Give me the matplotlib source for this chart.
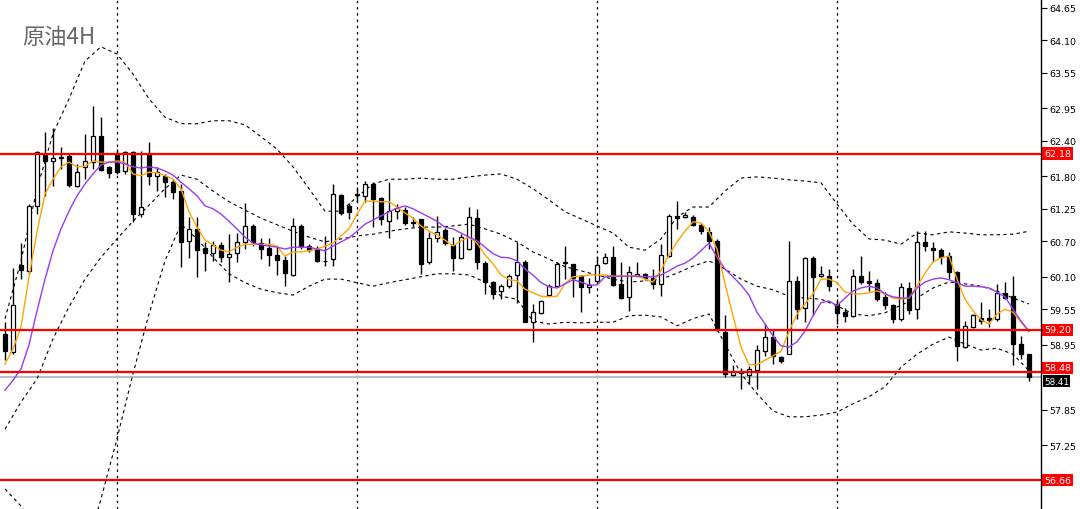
import matplotlib
matplotlib.use('Agg')
import matplotlib.pyplot as plt
import matplotlib.transforms as mtransforms
import numpy as np

# 4H candles of crude oil
opens = [59.13, 58.83, 60.30, 60.20, 61.30, 62.16, 62.06, 62.11, 62.14, 61.64,
         61.96, 62.04, 62.48, 61.96, 62.16, 61.89, 62.21, 61.16, 62.16, 61.81,
         61.81, 61.70, 61.55, 60.71, 60.91, 60.59, 60.50, 60.64, 60.43, 60.50,
         60.69, 60.96, 60.67, 60.59, 60.47, 60.38, 60.13, 60.96, 60.62, 60.57,
         60.37, 60.40, 61.48, 61.30, 61.48, 61.47, 61.67, 61.43, 61.04, 61.21,
         61.23, 61.03, 61.08, 60.35, 60.76, 60.89, 60.64, 60.42, 60.57, 61.09,
         60.33, 60.01, 59.86, 59.94, 60.13, 60.35, 59.33, 59.49, 59.79, 59.94,
         60.33, 60.32, 60.11, 59.93, 60.03, 60.33, 60.43, 59.98, 59.76, 60.11,
         60.15, 60.08, 59.98, 60.45, 61.13, 61.11, 61.11, 60.98, 60.86, 60.71,
         59.17, 58.44, 58.51, 58.44, 58.52, 58.84, 59.08, 58.74, 58.79, 60.03,
         59.57, 60.42, 60.11, 60.11, 59.64, 59.50, 59.44, 60.11, 60.03, 60.00,
         59.76, 59.62, 59.39, 59.91, 59.55, 60.69, 60.59, 60.55, 60.45, 60.18,
         58.91, 59.25, 59.40, 59.40, 59.39, 59.83, 59.77, 58.96, 58.79]
highs = [59.33, 60.25, 60.67, 61.33, 62.23, 62.55, 62.62, 62.30, 62.18, 62.01,
         62.52, 62.99, 62.80, 61.97, 62.26, 62.23, 62.23, 62.23, 62.38, 61.96,
         61.84, 61.75, 61.67, 61.11, 61.11, 60.69, 60.71, 60.69, 60.82, 60.84,
         61.35, 60.99, 60.76, 60.76, 60.62, 60.45, 61.09, 60.99, 60.65, 60.62,
         60.79, 61.67, 61.50, 61.35, 61.62, 61.72, 61.70, 61.45, 61.70, 61.33,
         61.28, 61.11, 61.08, 60.86, 61.13, 60.93, 60.77, 60.82, 61.28, 61.25,
         60.37, 60.03, 59.98, 60.15, 60.69, 60.38, 59.64, 59.71, 59.98, 60.35,
         60.62, 60.32, 60.13, 60.08, 60.45, 60.50, 60.62, 60.35, 60.28, 60.35,
         60.16, 60.23, 60.65, 61.16, 61.38, 61.20, 61.15, 61.01, 60.94, 60.74,
         59.45, 58.61, 58.56, 58.59, 58.95, 59.30, 59.22, 58.76, 60.71, 60.11,
         60.43, 60.45, 60.28, 60.23, 59.72, 59.57, 60.23, 60.45, 60.20, 60.06,
         59.84, 59.64, 60.00, 60.01, 60.87, 60.87, 60.69, 60.59, 60.52, 60.20,
         59.35, 59.47, 59.67, 59.55, 59.98, 60.01, 60.11, 59.10, 58.79]
lows = [58.69, 58.79, 60.06, 60.15, 61.16, 61.47, 61.64, 61.92, 61.62, 61.62,
        61.75, 61.92, 61.89, 61.77, 61.84, 61.84, 61.03, 61.11, 61.65, 61.55,
        61.45, 61.42, 60.27, 60.42, 60.10, 60.20, 60.37, 60.35, 60.01, 60.35,
        60.57, 60.62, 60.40, 60.28, 60.13, 59.94, 60.11, 60.57, 60.52, 60.35,
        60.28, 60.28, 61.15, 61.08, 61.37, 61.37, 60.94, 60.98, 60.76, 61.08,
        60.98, 60.94, 60.15, 60.32, 60.69, 60.64, 60.20, 60.40, 60.55, 60.23,
        59.81, 59.72, 59.72, 59.91, 59.66, 59.33, 59.00, 59.47, 59.77, 59.93,
        60.06, 59.76, 59.50, 59.83, 60.01, 60.32, 59.94, 59.72, 59.52, 60.11,
        60.05, 59.89, 59.77, 60.43, 60.91, 61.09, 60.96, 60.82, 60.57, 59.18,
        58.40, 58.42, 58.20, 58.29, 58.20, 58.76, 58.62, 58.64, 58.79, 59.39,
        59.33, 59.45, 60.10, 59.86, 59.30, 59.33, 59.42, 59.98, 59.86, 59.69,
        59.55, 59.32, 59.35, 59.47, 59.39, 60.54, 60.35, 60.32, 60.06, 58.67,
        58.89, 59.23, 59.30, 59.25, 59.35, 59.72, 58.61, 58.71, 58.34]
closes = [58.84, 59.62, 60.21, 61.30, 62.21, 62.06, 62.11, 62.13, 61.65, 61.87,
          62.06, 62.48, 61.91, 61.86, 61.87, 62.21, 61.16, 61.28, 61.81, 61.87,
          61.70, 61.53, 60.69, 60.91, 60.55, 60.50, 60.64, 60.43, 60.49, 60.69,
          60.96, 60.69, 60.57, 60.47, 60.38, 60.16, 60.96, 60.62, 60.55, 60.37,
          60.36, 61.50, 61.18, 61.20, 61.50, 61.67, 61.42, 61.08, 61.21, 61.26,
          61.01, 61.01, 60.32, 60.76, 60.86, 60.67, 60.42, 60.77, 61.11, 60.35,
          60.01, 59.81, 59.94, 60.11, 60.35, 59.33, 59.50, 59.69, 59.94, 60.32,
          60.35, 60.08, 59.93, 59.96, 60.30, 60.43, 59.96, 59.74, 60.18, 60.15,
          60.08, 59.98, 60.47, 61.13, 61.09, 61.15, 60.98, 60.87, 60.71, 59.20,
          58.46, 58.51, 58.47, 58.54, 58.86, 59.08, 58.76, 58.67, 60.03, 59.55,
          60.42, 60.10, 60.15, 59.94, 59.49, 59.44, 60.11, 60.01, 60.00, 59.72,
          59.62, 59.39, 59.93, 59.54, 60.69, 60.62, 60.55, 60.43, 60.18, 58.93,
          59.27, 59.45, 59.35, 59.37, 59.83, 59.74, 58.96, 58.79, 58.41]

# fast (orange) and slow (purple) moving averages, one value per candle
ma_fast = [58.62, 58.88, 59.25, 60.10, 60.86, 61.50, 61.75, 61.96, 62.04, 61.96,
           61.97, 62.06, 62.04, 62.04, 62.06, 62.04, 61.84, 61.81, 61.87, 61.86,
           61.81, 61.75, 61.59, 61.20, 60.94, 60.72, 60.64, 60.55, 60.52, 60.60,
           60.65, 60.65, 60.65, 60.65, 60.62, 60.45, 60.52, 60.52, 60.54, 60.57,
           60.62, 60.67, 60.79, 60.91, 61.16, 61.38, 61.38, 61.37, 61.37, 61.28,
           61.18, 61.09, 60.96, 60.87, 60.81, 60.72, 60.62, 60.71, 60.77, 60.67,
           60.47, 60.32, 60.13, 60.05, 60.03, 59.89, 59.83, 59.77, 59.76, 59.77,
           59.98, 60.10, 60.11, 60.13, 60.13, 60.13, 60.11, 60.11, 60.11, 60.11,
           60.06, 60.01, 60.21, 60.47, 60.69, 60.87, 61.03, 61.01, 60.86, 60.57,
           59.98, 59.44, 58.91, 58.61, 58.61, 58.69, 58.76, 58.84, 59.17, 59.47,
           59.64, 59.81, 60.06, 60.06, 60.00, 59.84, 59.81, 59.81, 59.83, 59.86,
           59.81, 59.74, 59.72, 59.74, 59.94, 60.16, 60.35, 60.42, 60.45, 60.06,
           59.72, 59.52, 59.37, 59.30, 59.47, 59.55, 59.50, 59.33, 59.17]
ma_slow = [58.18, 58.35, 58.54, 58.95, 59.52, 60.06, 60.54, 60.91, 61.21, 61.47,
           61.67, 61.84, 61.99, 62.04, 62.04, 62.01, 61.96, 61.94, 61.96, 61.94,
           61.89, 61.82, 61.70, 61.59, 61.47, 61.30, 61.25, 61.16, 61.04, 60.91,
           60.77, 60.67, 60.64, 60.62, 60.60, 60.57, 60.60, 60.60, 60.60, 60.57,
           60.54, 60.62, 60.69, 60.76, 60.87, 60.99, 61.06, 61.13, 61.20, 61.26,
           61.30, 61.25, 61.18, 61.11, 61.04, 60.94, 60.91, 60.84, 60.77, 60.71,
           60.60, 60.49, 60.43, 60.42, 60.37, 60.23, 60.13, 60.00, 59.93, 59.91,
           59.98, 60.05, 60.01, 59.96, 59.96, 60.10, 60.11, 60.11, 60.11, 60.11,
           60.10, 60.10, 60.13, 60.20, 60.28, 60.33, 60.42, 60.54, 60.67, 60.43,
           60.23, 60.10, 59.96, 59.79, 59.50, 59.30, 59.10, 58.93, 58.91, 59.00,
           59.18, 59.44, 59.66, 59.69, 59.61, 59.74, 59.86, 59.91, 59.94, 59.91,
           59.81, 59.76, 59.74, 59.74, 59.91, 60.01, 60.06, 60.08, 60.05, 60.00,
           59.94, 59.94, 59.93, 59.91, 59.84, 59.76, 59.55, 59.35, 59.18]

# Bollinger bands, read every second candle
bb_step = 2
bb_upper = [59.39, 60.37, 61.59, 62.52, 63.11, 63.75, 63.99, 63.87, 63.53, 63.11,
            62.80, 62.69, 62.69, 62.74, 62.74, 62.67, 62.47, 62.26, 61.96, 61.59,
            61.21, 61.21, 61.45, 61.67, 61.75, 61.75, 61.77, 61.75, 61.75, 61.79,
            61.82, 61.84, 61.75, 61.59, 61.40, 61.20, 61.08, 60.96, 60.84, 60.60,
            60.55, 60.74, 61.11, 61.28, 61.28, 61.55, 61.77, 61.79, 61.77, 61.74,
            61.72, 61.69, 61.33, 60.99, 60.74, 60.72, 60.65, 60.84, 60.81, 60.86,
            60.84, 60.81, 60.81, 60.82, 60.87]
bb_middle = [57.52, 57.98, 58.37, 59.05, 59.59, 60.06, 60.43, 60.74, 61.04, 61.31,
             61.59, 61.82, 61.75, 61.55, 61.37, 61.23, 61.09, 60.98, 60.87, 60.77,
             60.69, 60.74, 60.79, 60.82, 60.87, 60.91, 60.94, 60.94, 60.96, 60.99,
             60.91, 60.82, 60.69, 60.52, 60.40, 60.27, 60.20, 60.13, 60.06, 60.01,
             60.03, 60.06, 60.16, 60.28, 60.37, 60.23, 60.06, 59.94, 59.88, 59.77,
             59.74, 59.72, 59.61, 59.47, 59.44, 59.49, 59.62, 59.74, 59.91, 60.01,
             59.98, 59.94, 59.86, 59.74, 59.64]
bb_lower = [56.51, 56.22, 55.83, 55.49, 55.29, 55.41, 56.34, 57.36, 58.46, 59.47,
            60.37, 60.99, 60.74, 60.43, 60.15, 60.00, 59.89, 59.83, 59.79, 59.94,
            60.06, 60.06, 60.00, 59.94, 60.00, 60.05, 60.10, 60.15, 60.15, 60.13,
            60.01, 59.77, 59.72, 59.35, 59.30, 59.33, 59.32, 59.33, 59.33, 59.44,
            59.45, 59.42, 59.27, 59.39, 59.47, 58.96, 58.46, 58.12, 57.83, 57.73,
            57.73, 57.76, 57.81, 57.95, 58.07, 58.24, 58.57, 58.79, 58.96, 59.08,
            58.96, 58.86, 58.89, 58.79, 58.51]

levels = [62.18, 59.20, 58.48, 56.66]
bid = 58.41
separators = [14, 44, 74, 104]
tick_values = [64.65, 64.10, 63.55, 62.95, 62.40, 61.80, 61.25, 60.70,
               60.10, 59.55, 58.95, 57.85, 57.25]
title = '原油4H'

fig = plt.figure(figsize=(10.8, 5.1), dpi=100)
ax = fig.add_axes([0, 0, 1041 / 1080, 1])

x = np.arange(len(closes))
o = np.array(opens)
c = np.array(closes)
up = c >= o

# wicks
ax.vlines(x, lows, highs, color='black', lw=1, zorder=3)
# bodies
bottom = np.minimum(o, c)
height = np.maximum(np.abs(c - o), 0.012)
ax.bar(x[up], height[up], bottom=bottom[up], width=0.62, color='white',
       edgecolor='black', linewidth=0.9, zorder=4)
ax.bar(x[~up], height[~up], bottom=bottom[~up], width=0.62, color='black',
       edgecolor='black', linewidth=0.9, zorder=4)

# moving averages
ax.plot(x, ma_fast, color='#FFA500', lw=1.0, zorder=5)
ax.plot(x, ma_slow, color='#9B3BF0', lw=1.0, zorder=5)

# Bollinger bands
xb = np.arange(0, len(closes), bb_step)
for band in (bb_upper, bb_middle, bb_lower):
    ax.plot(xb, band, color='black', lw=0.8, dashes=(3, 3), zorder=2)

# period separators
for s in separators:
    ax.axvline(s, color='black', lw=0.9, dashes=(2, 3), zorder=1)

# horizontal levels
for lv in levels:
    ax.axhline(lv, color='#FF0000', lw=1.6, zorder=6)
ax.axhline(bid, color='#B4BCC4', lw=1.4, zorder=1)

ax.set_xlim(-0.625, 129.5)
ax.set_ylim(56.17, 64.80)
for side in ('left', 'top', 'bottom'):
    ax.spines[side].set_visible(False)
ax.spines['right'].set_linewidth(1.0)
ax.set_xticks([])
ax.yaxis.tick_right()
ax.set_yticks(tick_values)
ax.set_yticklabels(['%.2f' % v for v in tick_values])
ax.tick_params(axis='y', direction='out', length=4, width=0.8, pad=2,
               labelsize=6.8, colors='black')

# price tags on the scale
trans = mtransforms.blended_transform_factory(ax.transAxes, ax.transData)
ax.text(1.003, bid, '%.2f' % bid, transform=trans, ha='left', va='top',
        color='white', fontsize=6.3, clip_on=False, zorder=7,
        bbox=dict(boxstyle='square,pad=0.15', fc='black', ec='none'))
for lv in levels:
    va = 'bottom' if lv == 58.48 else 'center'
    ax.text(1.003, lv, '%.2f' % lv, transform=trans, ha='left', va=va,
            color='white', fontsize=6.8, clip_on=False, zorder=8,
            bbox=dict(boxstyle='square,pad=0.2', fc='#FF0000', ec='none'))

fig.text(22 / 1080, 1 - 38 / 510, title, fontsize=16, color='#666666',
         va='center', ha='left', family=['Noto Sans CJK SC', 'DejaVu Sans'])

fig.savefig('out.png', dpi=100, facecolor='white')
